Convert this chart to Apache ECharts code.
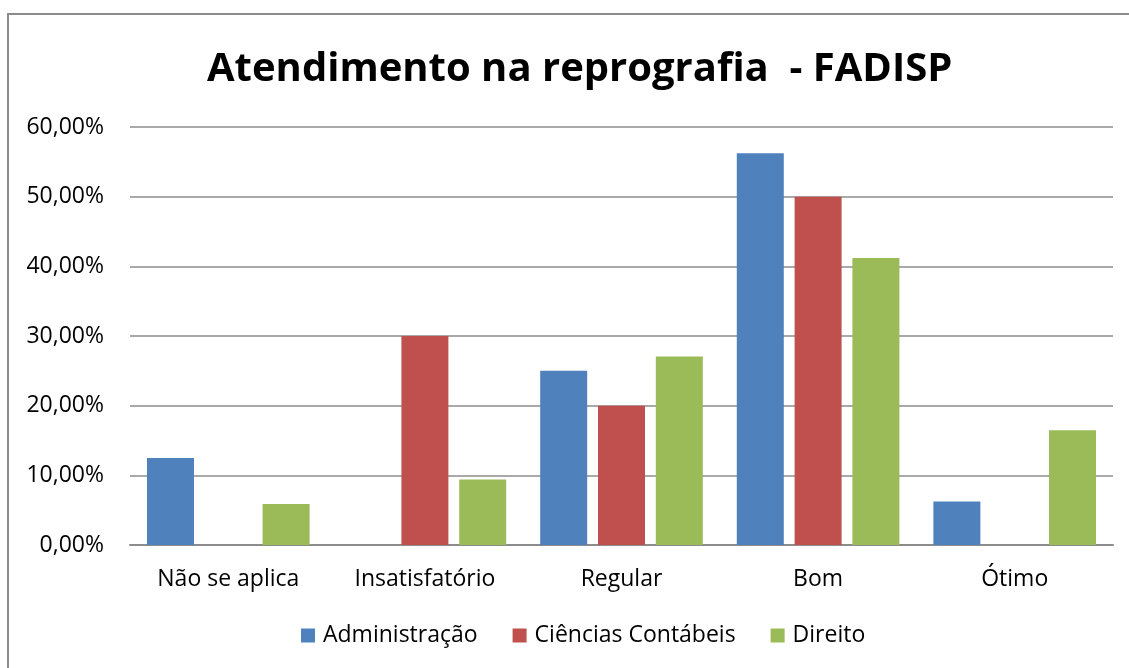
<!DOCTYPE html>
<html>
<head>
<meta charset="utf-8">
<script src="https://cdn.jsdelivr.net/npm/echarts@6/dist/echarts.min.js"></script>
<style>
  html, body { margin: 0; padding: 0; background: #fff; }
  #frame {
    position: absolute; left: 7px; top: 13px;
    width: 1140px; height: 680px;
    border: 2px solid #8c8c8c; box-sizing: border-box;
  }
  #chart { position: absolute; left: 0; top: 0; width: 1129px; height: 668px; }
</style>
</head>
<body>
<div id="frame"></div>
<div id="chart"></div>
<script>
// categorias e valores (%)
var categorias = ['Não se aplica', 'Insatisfatório', 'Regular', 'Bom', 'Ótimo'];
var administracao = [12.5, 0, 25, 56.25, 6.25];
var cienciasContabeis = [0, 30, 20, 50, 0];
var direito = [5.88, 9.41, 27.06, 41.18, 16.47];

var fonte = 'Open Sans';
var chart = echarts.init(document.getElementById('chart'));

var option = {
  animation: false,
  title: {
    text: 'Atendimento na reprografia  - FADISP',
    left: 202,
    top: 45,
    textStyle: { fontFamily: fonte, fontWeight: 'bold', fontSize: 40, color: '#000' }
  },
  legend: {
    bottom: 16,
    left: 296,
    itemWidth: 14,
    itemHeight: 14,
    itemGap: 35,
    icon: 'rect',
    textStyle: { fontFamily: fonte, fontSize: 23, color: '#000', padding: [0, 0, 0, 3] },
    data: ['Administração', 'Ciências Contábeis', 'Direito']
  },
  grid: { left: 130, right: 16, top: 127, bottom: 123 },
  xAxis: {
    type: 'category',
    data: categorias,
    axisTick: { show: false },
    axisLine: { lineStyle: { color: '#8c8c8c', width: 2 } },
    axisLabel: { fontFamily: fonte, fontSize: 23, color: '#000', margin: 23 }
  },
  yAxis: {
    type: 'value',
    min: 0, max: 60, interval: 10,
    axisLabel: {
      fontFamily: fonte, fontSize: 23, color: '#000', margin: 26,
      formatter: function (v) { return v.toFixed(2).replace('.', ',') + '%'; }
    },
    splitLine: { lineStyle: { color: '#8c8c8c', width: 1.5 } },
    axisLine: { show: false },
    axisTick: { show: false }
  },
  series: [
    { name: 'Administração', type: 'bar', data: administracao, barWidth: 47, barGap: '23%', itemStyle: { color: '#4f81bd' } },
    { name: 'Ciências Contábeis', type: 'bar', data: cienciasContabeis, barWidth: 47, barGap: '23%', itemStyle: { color: '#c0504d' } },
    { name: 'Direito', type: 'bar', data: direito, barWidth: 47, barGap: '23%', itemStyle: { color: '#9bbb59' } }
  ]
};
chart.setOption(option);
</script>
</body>
</html>
